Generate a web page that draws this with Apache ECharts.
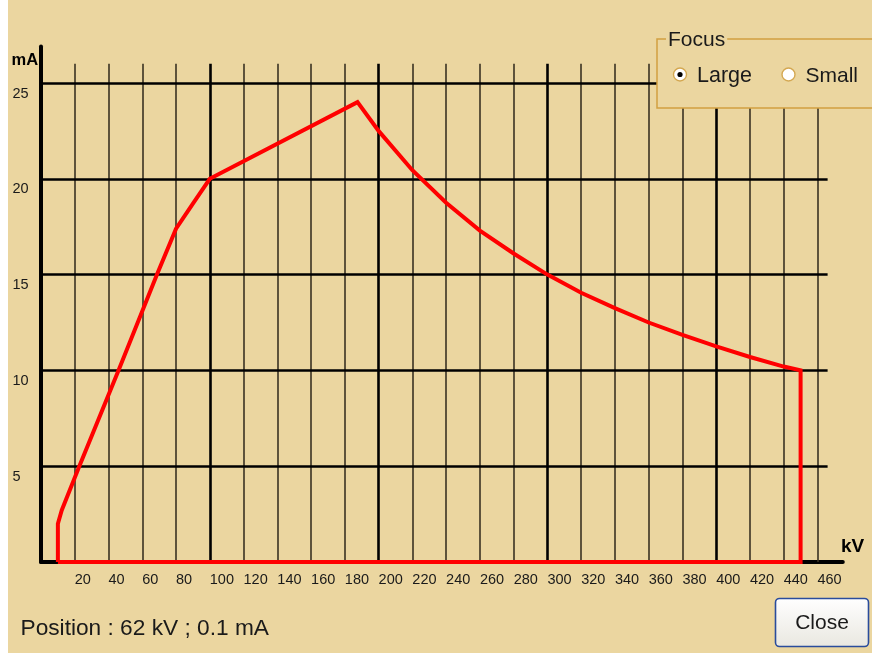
<!DOCTYPE html>
<html><head><meta charset="utf-8">
<script src="https://cdn.jsdelivr.net/npm/echarts@6/dist/echarts.min.js"></script>
<style>
html,body{margin:0;padding:0;background:#fff;}
#c{width:872px;height:656px;}
</style></head><body>
<div id="c"></div>
<script>
// ---- data ----
const xTicks = [20,40,60,80,100,120,140,160,180,200,220,240,260,280,300,320,340,360,380,400,420,440,460];
const yTicks = [5,10,15,20,25];
const curveKV = [10, 10, 12.3, 22.7, 45.9, 68.7, 80, 90, 100, 187.5, 200, 220, 240, 260, 280, 300, 320, 340, 360, 380, 400, 420, 440, 450, 450, 10];
const curveMA = [0, 2, 2.7, 5, 10, 15, 17.4, 18.7, 20, 24, 22.5, 20.45, 18.75, 17.3, 16.1, 15, 14.05, 13.25, 12.5, 11.85, 11.25, 10.7, 10.2, 10, 0, 0];
const xTitle = 'kV';
const yTitle = 'mA';
const positionText = 'Position : 62 kV ; 0.1 mA';
const focusTitle = 'Focus';
const focusOptions = ['Large', 'Small'];
const buttonText = 'Close';

const BG = '#ebd6a0';
const FONT = '"Liberation Sans", Arial, sans-serif';
const X_MAX = 475, Y_MAX = 26.9, GRID_X_END = 466, GRID_Y_END = 26;

const chart = echarts.init(document.getElementById('c'), null, {renderer: 'canvas'});

const gridLines = [];
xTicks.forEach(v => {
  const major = v % 100 === 0;
  gridLines.push([
    {coord: [v, 0], lineStyle: {width: major ? 2.6 : 1.6, color: major ? '#000' : '#3a3222', type: 'solid'}},
    {coord: [v, GRID_Y_END]}
  ]);
});
yTicks.forEach(v => {
  gridLines.push([
    {coord: [0, v], lineStyle: {width: 2.6, color: '#000', type: 'solid'}},
    {coord: [GRID_X_END, v]}
  ]);
});

const option = {
  backgroundColor: BG,
  animation: false,
  grid: {left: 41, right: 872 - 41 - X_MAX * 1.688, top: 46.6, bottom: 94, containLabel: false},
  xAxis: {
    type: 'value', min: 0, max: X_MAX, interval: 20,
    axisLine: {show: true, lineStyle: {color: '#000', width: 4}},
    axisTick: {show: false},
    splitLine: {show: false},
    axisLabel: {
      show: true, showMinLabel: false, showMaxLabel: false,
      align: 'left', verticalAlign: 'top', margin: 10,
      fontFamily: FONT, fontSize: 14.5, color: '#1a1a1a'
    }
  },
  yAxis: {
    type: 'value', min: 0, max: Y_MAX, interval: 5,
    axisLine: {show: true, lineStyle: {color: '#000', width: 4}},
    axisTick: {show: false},
    splitLine: {show: false},
    axisLabel: {
      show: true, showMinLabel: false, showMaxLabel: false,
      align: 'left', verticalAlign: 'top', margin: 28.5, padding: [3, 0, 0, 0],
      fontFamily: FONT, fontSize: 14.5, color: '#1a1a1a'
    }
  },
  series: [
    {
      type: 'line', z: 1, silent: true,
      data: [[0, 0]], showSymbol: false, lineStyle: {opacity: 0},
      markLine: {
        silent: true, symbol: ['none', 'none'], animation: false,
        label: {show: false},
        emphasis: {disabled: true},
        data: gridLines
      }
    },
    {
      type: 'line', z: 5, silent: true,
      data: curveKV.map((k, i) => [k, curveMA[i]]),
      showSymbol: false,
      lineStyle: {color: '#ff0000', width: 4, join: 'miter', cap: 'butt'}
    }
  ],
  graphic: [
    {type: 'rect', z: 100, silent: true, shape: {x: 0, y: 0, width: 8, height: 656}, style: {fill: '#fff'}},
    {type: 'rect', z: 100, silent: true, shape: {x: 0, y: 653, width: 872, height: 3}, style: {fill: '#fff'}},
    // axis titles
    {type: 'text', z: 100, x: 11.5, y: 60.5, style: {text: yTitle, font: 'bold 16.5px ' + FONT, fill: '#000', verticalAlign: 'middle', align: 'left'}},
    {type: 'text', z: 100, x: 841, y: 546.5, style: {text: xTitle, font: 'bold 19px ' + FONT, fill: '#000', verticalAlign: 'middle', align: 'left'}},
    // position
    {type: 'text', z: 100, x: 20.5, y: 628.5, style: {text: positionText, font: '22.7px ' + FONT, fill: '#1a1a1a', verticalAlign: 'middle', align: 'left'}},
    // focus box
    {type: 'rect', z: 100, silent: true, shape: {x: 657, y: 39, width: 230, height: 69}, style: {fill: BG, stroke: '#d2a040', lineWidth: 1.5}},
    {type: 'text', z: 101, x: 666, y: 40.5, style: {text: focusTitle, font: '21px ' + FONT, fill: '#1a1a1a', verticalAlign: 'middle', align: 'left', backgroundColor: BG, padding: [0, 2]}},
    {type: 'circle', z: 101, shape: {cx: 680, cy: 74.5, r: 6.5}, style: {fill: '#fff', stroke: '#d4a852', lineWidth: 1.4}},
    {type: 'circle', z: 102, shape: {cx: 680, cy: 74.5, r: 2.6}, style: {fill: '#000'}},
    {type: 'text', z: 101, x: 697, y: 76, style: {text: focusOptions[0], font: '21.5px ' + FONT, fill: '#1a1a1a', verticalAlign: 'middle', align: 'left'}},
    {type: 'circle', z: 101, shape: {cx: 788.5, cy: 74.5, r: 6.5}, style: {fill: '#fff', stroke: '#d4a852', lineWidth: 1.4}},
    {type: 'text', z: 101, x: 805.5, y: 76, style: {text: focusOptions[1], font: '21px ' + FONT, fill: '#1a1a1a', verticalAlign: 'middle', align: 'left'}},
    // close button
    {type: 'rect', z: 100, shape: {x: 775.5, y: 598.5, width: 93, height: 48, r: 4},
      style: {fill: new echarts.graphic.LinearGradient(0, 0, 0, 1, [{offset: 0, color: '#ffffff'}, {offset: 1, color: '#e9e7e0'}]), stroke: '#2a4c9c', lineWidth: 1.6}},
    {type: 'text', z: 101, x: 822, y: 623, style: {text: buttonText, font: '21px ' + FONT, fill: '#1a1a1a', verticalAlign: 'middle', align: 'center'}}
  ]
};
chart.setOption(option);
</script>
</body></html>
